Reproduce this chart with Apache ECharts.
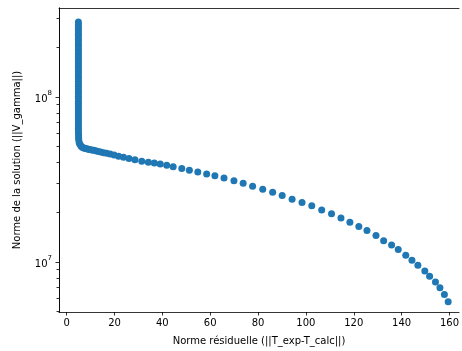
<!DOCTYPE html>
<html>
<head>
<meta charset="utf-8">
<script src="https://cdn.jsdelivr.net/npm/echarts@6/dist/echarts.min.js"></script>
<style>
html,body{margin:0;padding:0;background:#fff;}
#chart{width:462px;height:351px;}
</style>
</head>
<body>
<div id="chart"></div>
<script>
var residualNorm = [
  4.9, 4.9, 4.9, 4.9, 4.9, 4.9, 4.9, 4.9, 4.9, 4.9,
  4.9, 4.9, 4.9, 4.9, 4.9, 4.9, 4.9, 4.9, 4.9, 4.9,
  4.9, 4.9, 4.9, 4.9, 4.9, 4.9, 4.9, 4.9, 4.9, 4.9,
  4.9, 4.9, 4.9, 4.9, 4.9, 4.9, 4.9, 4.9, 4.9, 4.9,
  4.9, 4.9, 4.9, 4.9, 4.9, 4.95, 5.0, 5.0, 5.1,
  5.31, 5.73, 6.14, 6.68,
  7.18, 7.80, 8.42, 9.05, 9.67, 10.50, 11.33, 12.16, 13.20, 14.23,
  15.48, 16.72, 18.17, 19.83, 21.70, 23.78, 26.06, 28.55,
  31.4, 34.15, 36.64, 39.13, 41.83, 44.52, 48.13, 51.29, 54.81, 58.51,
  61.95, 65.77, 69.92, 73.78, 77.72, 81.95, 86.10, 90.08, 94.23, 98.38,
  102.45, 106.60, 110.71, 114.65, 118.38, 122.12, 125.52, 129.29, 132.49, 135.81,
  138.59, 141.74, 144.32, 146.80, 149.71, 151.70, 154.15, 156.02, 157.88, 159.46
];
var solutionNorm = [
  2.85e8, 2.75e8, 2.66e8, 2.57e8, 2.48e8, 2.40e8, 2.32e8, 2.24e8, 2.16e8, 2.09e8,
  2.02e8, 1.95e8, 1.88e8, 1.82e8, 1.76e8, 1.70e8, 1.64e8, 1.585e8, 1.53e8, 1.48e8,
  1.43e8, 1.38e8, 1.33e8, 1.29e8, 1.245e8, 1.20e8, 1.16e8, 1.12e8, 1.08e8, 1.05e8,
  1.01e8, 9.77e7, 9.44e7, 9.12e7, 8.81e7, 8.51e7, 8.22e7, 7.94e7, 7.67e7, 7.41e7,
  7.16e7, 6.92e7, 6.68e7, 6.46e7, 6.24e7, 6.03e7, 5.82e7, 5.62e7, 5.43e7,
  5.24e7, 5.11e7, 5.01e7, 4.94e7,
  4.90e7, 4.88e7, 4.86e7, 4.83e7, 4.81e7, 4.78e7, 4.75e7, 4.72e7, 4.68e7, 4.64e7,
  4.60e7, 4.56e7, 4.51e7, 4.45e7, 4.38e7, 4.32e7, 4.24e7, 4.16e7,
  4.076e7, 4.019e7, 3.975e7, 3.920e7, 3.855e7, 3.776e7, 3.682e7, 3.596e7, 3.511e7, 3.414e7,
  3.330e7, 3.225e7, 3.110e7, 2.999e7, 2.876e7, 2.758e7, 2.645e7, 2.526e7, 2.399e7, 2.291e7,
  2.191e7, 2.066e7, 1.960e7, 1.848e7, 1.740e7, 1.641e7, 1.552e7, 1.447e7, 1.344e7, 1.266e7,
  1.189e7, 1.098e7, 1.024e7, 9.55e6, 8.81e6, 8.20e6, 7.57e6, 6.98e6, 6.36e6, 5.75e6
];
var xTicks = [0, 20, 40, 60, 80, 100, 120, 140, 160];
var yMajorTicks = [1e7, 1e8];
var yMinorTicks = [5e6, 6e6, 7e6, 8e6, 9e6, 2e7, 3e7, 4e7, 5e7, 6e7, 7e7, 8e7, 9e7, 2e8, 3e8];
var xTitle = 'Norme résiduelle (||T_exp-T_calc||)';
var yTitle = 'Norme de la solution (||V_gamma||)';

var points = residualNorm.map(function (x, i) { return [x, solutionNorm[i]]; });
var FONT = 'DejaVu Sans';
var chart = echarts.init(document.getElementById('chart'), null, {renderer: 'canvas'});
var yMin = 4.977e6, yMax = 3.463e8;
var xMin = -3.2, xMax = 164.0;
chart.setOption({
  animation: false,
  backgroundColor: '#ffffff',
  grid: [
    {left: 59, top: 8, bottom: 39, right: 0, show: false},
    {left: 59, top: 8, bottom: 39, right: 0, show: false}
  ],
  xAxis: [{
    gridIndex: 0, type: 'value', min: xMin, max: xMax, position: 'bottom',
    name: xTitle, nameLocation: 'middle', nameGap: 24,
    nameTextStyle: {fontFamily: FONT, fontSize: 10, color: '#000'},
    axisLine: {show: true, onZero: false, lineStyle: {color: '#000', width: 0.8}},
    axisTick: {show: true, inside: false, length: 3.5, lineStyle: {color: '#000', width: 0.8}, customValues: xTicks},
    axisLabel: {fontFamily: FONT, fontSize: 10, color: '#000', margin: 6, customValues: xTicks},
    splitLine: {show: false}
  }, {
    gridIndex: 0, type: 'value', min: xMin, max: xMax, position: 'top',
    axisLine: {show: true, onZero: false, lineStyle: {color: '#000', width: 0.8}},
    axisTick: {show: false}, axisLabel: {show: false}, splitLine: {show: false}
  }, {
    gridIndex: 1, type: 'value', min: xMin, max: xMax, position: 'bottom',
    axisLine: {show: false, onZero: false}, axisTick: {show: false}, axisLabel: {show: false}, splitLine: {show: false}
  }],
  yAxis: [{
    gridIndex: 0, type: 'log', logBase: 10, min: yMin, max: yMax, position: 'left',
    name: yTitle, nameLocation: 'middle', nameGap: 37, nameRotate: 90,
    nameTextStyle: {fontFamily: FONT, fontSize: 10, color: '#000'},
    axisLine: {show: true, onZero: false, lineStyle: {color: '#000', width: 0.8}},
    axisTick: {show: true, inside: false, length: 3.5, lineStyle: {color: '#000', width: 0.8}, customValues: yMajorTicks},
    axisLabel: {
      fontFamily: FONT, color: '#000', margin: 7, customValues: yMajorTicks,
      formatter: function (v) { return '{b|10}{s|' + Math.round(Math.log10(v)) + '}'; },
      rich: {
        b: {fontFamily: FONT, fontSize: 10, color: '#000', lineHeight: 14, verticalAlign: 'bottom'},
        s: {fontFamily: FONT, fontSize: 7, color: '#000', lineHeight: 14, verticalAlign: 'top', padding: [0, 0, 5, 0]}
      }
    },
    splitLine: {show: false}
  }, {
    gridIndex: 1, type: 'log', logBase: 10, min: yMin, max: yMax, position: 'left',
    axisLine: {show: true, onZero: false, lineStyle: {color: '#000', width: 0.8}},
    axisTick: {show: true, inside: false, length: 2.5, lineStyle: {color: '#000', width: 0.8}, customValues: yMinorTicks},
    axisLabel: {show: false},
    splitLine: {show: false}
  }],
  series: [{
    type: 'scatter',
    xAxisIndex: 0,
    yAxisIndex: 0,
    symbol: 'circle',
    symbolSize: 7,
    itemStyle: {color: '#1f77b4', opacity: 1},
    data: points
  }]
});
</script>
</body>
</html>
